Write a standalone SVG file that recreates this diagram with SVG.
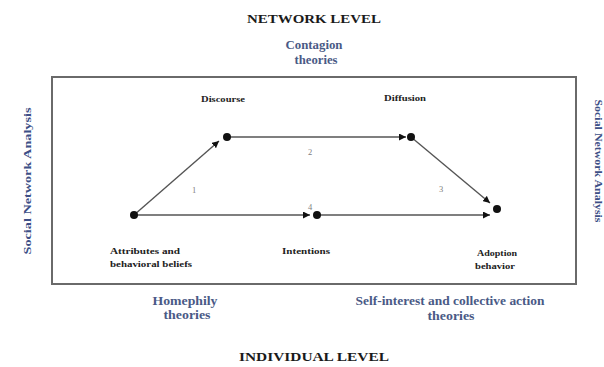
<svg xmlns="http://www.w3.org/2000/svg" width="604" height="367" viewBox="0 0 604 367">
<defs>
<style>
text{font-family:"Liberation Serif","Times New Roman",serif;font-weight:bold;text-anchor:middle}
.lvl{font-size:13px;fill:#1a1a1a}
.th{font-size:12px;fill:#4a5a86}
.nd{font-size:9px;fill:#222}
.num{font-size:8.5px;fill:#808080;font-weight:normal}
.side{font-size:10.5px;fill:#3d4f86}
.edge{stroke:#555;stroke-width:1.4;fill:none}
.dot{fill:#111}
</style>
<marker id="ah" viewBox="0 0 10 10" refX="10" refY="5" markerWidth="7" markerHeight="7" markerUnits="userSpaceOnUse" orient="auto">
<path d="M0,0 L10,5 L0,10 z" fill="#111"/>
</marker>
</defs>
<rect width="604" height="367" fill="#fff"/>
<g id="frame"><rect x="52" y="77" width="524" height="207" fill="none" stroke="#6a6a6a" stroke-width="2"/></g>
<g id="network-level"><text class="lvl" x="314" y="23" textLength="134" lengthAdjust="spacingAndGlyphs">NETWORK LEVEL</text></g>
<g id="contagion"><text class="th" x="314" y="49" textLength="57" lengthAdjust="spacingAndGlyphs">Contagion</text><text class="th" x="316" y="64" textLength="43" lengthAdjust="spacingAndGlyphs">theories</text></g>
<g id="individual-level"><text class="lvl" x="314" y="361" textLength="150" lengthAdjust="spacingAndGlyphs">INDIVIDUAL LEVEL</text></g>
<g id="homophily"><text class="th" x="185" y="305" textLength="65" lengthAdjust="spacingAndGlyphs">Homephily</text><text class="th" x="187" y="319" textLength="47" lengthAdjust="spacingAndGlyphs">theories</text></g>
<g id="self-interest"><text class="th" x="450" y="305" textLength="189" lengthAdjust="spacingAndGlyphs">Self-interest and collective action</text><text class="th" x="451" y="320" textLength="47" lengthAdjust="spacingAndGlyphs">theories</text></g>
<g id="sna-left"><text class="side" transform="translate(31,181) rotate(-90)" textLength="147" lengthAdjust="spacingAndGlyphs">Social Network Analysis</text></g>
<g id="sna-right"><text class="side" transform="translate(595,161) rotate(90)" textLength="123" lengthAdjust="spacingAndGlyphs">Social Network Analysis</text></g>
<g id="connectors">
<line class="edge" x1="134" y1="215" x2="219" y2="141" marker-end="url(#ah)"/>
<line class="edge" x1="226" y1="137" x2="406" y2="137" marker-end="url(#ah)"/>
<line class="edge" x1="411" y1="137" x2="490" y2="203" marker-end="url(#ah)"/>
<line class="edge" x1="134" y1="215" x2="310" y2="215" marker-end="url(#ah)"/>
<line class="edge" x1="317" y1="215" x2="490" y2="215" marker-end="url(#ah)"/>
<text class="num" x="194" y="193">1</text>
<text class="num" x="310" y="155">2</text>
<text class="num" x="441" y="192">3</text>
<text class="num" x="310" y="210">4</text>
</g>
<g id="attributes"><circle class="dot" cx="134" cy="215" r="4"/><text class="nd" x="145" y="254" textLength="70" lengthAdjust="spacingAndGlyphs">Attributes and</text><text class="nd" x="151" y="267" textLength="82" lengthAdjust="spacingAndGlyphs">behavioral beliefs</text></g>
<g id="discourse"><circle class="dot" cx="227" cy="137" r="4"/><text class="nd" x="223" y="102" textLength="44" lengthAdjust="spacingAndGlyphs">Discourse</text></g>
<g id="diffusion"><circle class="dot" cx="411" cy="137" r="4"/><text class="nd" x="405" y="101" textLength="42" lengthAdjust="spacingAndGlyphs">Diffusion</text></g>
<g id="intentions"><circle class="dot" cx="317" cy="215" r="4"/><text class="nd" x="306" y="254" textLength="48" lengthAdjust="spacingAndGlyphs">Intentions</text></g>
<g id="adoption"><circle class="dot" cx="497" cy="209" r="4"/><text class="nd" x="497" y="256" textLength="40" lengthAdjust="spacingAndGlyphs">Adoption</text><text class="nd" x="495" y="269" textLength="40" lengthAdjust="spacingAndGlyphs">behavior</text></g>
</svg>
